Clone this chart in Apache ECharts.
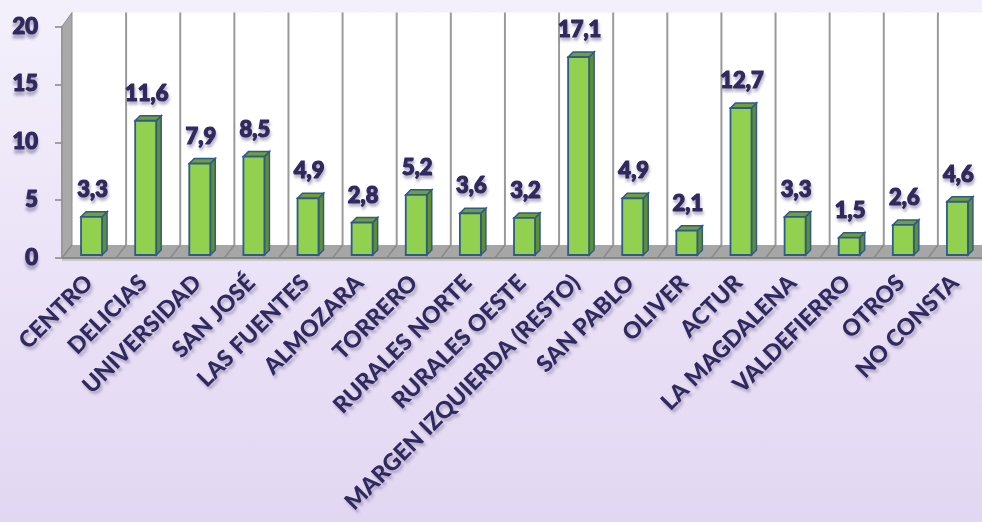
<!DOCTYPE html>
<html>
<head>
<meta charset="utf-8">
<script src="https://cdn.jsdelivr.net/npm/echarts@6/dist/echarts.min.js"></script>
<style>
html,body{margin:0;padding:0;}
#c{width:982px;height:522px;background:linear-gradient(180deg,#f4f0fb 0%,#ebe3f7 50%,#e2d7f2 100%);}
</style>
</head>
<body>
<div id="c"></div>
<script>
var categories = ['CENTRO','DELICIAS','UNIVERSIDAD','SAN JOSÉ','LAS FUENTES','ALMOZARA','TORRERO','RURALES NORTE','RURALES OESTE','MARGEN IZQUIERDA (RESTO)','SAN PABLO','OLIVER','ACTUR','LA MAGDALENA','VALDEFIERRO','OTROS','NO CONSTA'];
var values = [3.3, 11.6, 7.9, 8.5, 4.9, 2.8, 5.2, 3.6, 3.2, 17.1, 4.9, 2.1, 12.7, 3.3, 1.5, 2.6, 4.6];
var yTicks = [0, 5, 10, 15, 20];

var TEXT = '#30295e';
var FONT = 'Lato, "Open Sans", sans-serif';
var WEIGHT = 900;

var chart = echarts.init(document.getElementById('c'), null, {renderer: 'canvas'});

function wallsRender(params, api) {
  var bw = api.size([1, 0])[0];
  var p0 = api.coord([0, 0]);
  var pTop = api.coord([0, yTicks[yTicks.length - 1]]);
  var left = p0[0] - bw / 2;
  var right = left + categories.length * bw;
  var bottom = p0[1];
  var top = pTop[1];
  var dx = 10, dy = 13, dyTop = 14;
  var children = [];
  children.push({type: 'rect', shape: {x: left + dx, y: top - dyTop, width: right - left + 40, height: (bottom - dy) - (top - dyTop)}, style: {fill: '#ffffff'}});
  children.push({type: 'polygon', shape: {points: [[left, top], [left + dx, top - dyTop], [left + dx, bottom - dy], [left, bottom]]}, style: {fill: '#a9a9a9', stroke: '#8c8c8c', lineWidth: 1}});
  for (var k = 1; k <= categories.length; k++) {
    var x = left + dx + k * bw;
    children.push({type: 'line', shape: {x1: x, y1: top - dyTop, x2: x, y2: bottom - dy}, style: {stroke: '#9a9a9a', lineWidth: 2}});
  }
  children.push({type: 'polygon', shape: {points: [[left, bottom], [right + 40, bottom], [right + 40 + dx, bottom - dy], [left + dx, bottom - dy]]}, style: {fill: '#a6a6a6'}});
  for (var j = 0; j <= categories.length; j++) {
    var fx = left + j * bw;
    children.push({type: 'line', shape: {x1: fx, y1: bottom, x2: fx + dx, y2: bottom - dy}, style: {stroke: '#8a8a8a', lineWidth: 1.5}});
  }
  children.push({type: 'line', shape: {x1: left, y1: bottom, x2: right + 40, y2: bottom}, style: {stroke: '#8a8a8a', lineWidth: 2}});
  children.push({type: 'rect', shape: {x: left, y: bottom + 1, width: right - left + 40, height: 2}, style: {fill: '#c8c8c8'}});
  return {type: 'group', children: children};
}

function barRender(params, api) {
  var idx = api.value(0);
  var v = api.value(1);
  var base = api.coord([idx, 0]);
  var topP = api.coord([idx, v]);
  var ox = 2.5, oy = -3, w = 21, d = 5;
  var x0 = base[0] + ox - w / 2, x1 = x0 + w;
  var yb = base[1] + oy, yt = topP[1] + oy;
  var label = String(v).replace('.', ',');
  return {
    type: 'group',
    children: [
      {type: 'polygon', shape: {points: [[x1, yt], [x1 + d, yt - d], [x1 + d, yb - d], [x1, yb]]}, style: {fill: '#5f8f2e', stroke: '#2f5a8a', lineWidth: 1.5}},
      {type: 'polygon', shape: {points: [[x0, yt], [x1, yt], [x1 + d, yt - d], [x0 + d, yt - d]]}, style: {fill: '#6f9e3a', stroke: '#2f5a8a', lineWidth: 1.5}},
      {type: 'rect', shape: {x: x0, y: yt, width: w, height: yb - yt}, style: {fill: '#92d050', stroke: '#2f5a8a', lineWidth: 1.8}},
      {type: 'text', style: {
        text: label, x: x0 + w / 2 + 1, y: yt - d - 11,
        align: 'center', verticalAlign: 'bottom', textAlign: 'center', textVerticalAlign: 'bottom',
        font: WEIGHT + ' 22px ' + FONT, fill: TEXT,
        stroke: TEXT, lineWidth: 1.2,
        textShadowColor: 'rgba(70,60,110,0.35)', textShadowBlur: 3, textShadowOffsetX: 1, textShadowOffsetY: 3
      }}
    ]
  };
}

var barData = values.map(function (v, i) { return [i, v]; });

chart.setOption({
  animation: false,
  grid: {left: 62, top: 26.5, bottom: 264, width: 925, containLabel: false},
  xAxis: {
    type: 'category',
    data: categories,
    axisLine: {show: false},
    axisTick: {show: false},
    axisLabel: {
      interval: 0, rotate: 45, margin: 21,
      color: TEXT, fontFamily: FONT, fontWeight: WEIGHT, fontSize: 23,
      textShadowColor: 'rgba(70,60,110,0.35)', textShadowBlur: 3, textShadowOffsetX: 2, textShadowOffsetY: 3
    },
    splitLine: {show: false}
  },
  yAxis: {
    type: 'value',
    min: yTicks[0], max: yTicks[yTicks.length - 1], interval: 5,
    axisLine: {show: true, lineStyle: {color: '#868686', width: 1.5}},
    axisTick: {show: true, length: 7, lineStyle: {color: '#868686', width: 1.5}},
    splitLine: {show: false},
    axisLabel: {
      margin: 24, color: TEXT, fontFamily: FONT, fontWeight: WEIGHT, fontSize: 22,
      textBorderColor: TEXT, textBorderWidth: 1.2,
      textShadowColor: 'rgba(70,60,110,0.35)', textShadowBlur: 3, textShadowOffsetX: 0, textShadowOffsetY: 4
    }
  },
  series: [
    {type: 'custom', name: 'walls', data: [[0, 0]], renderItem: wallsRender, z: 1, silent: true, clip: false},
    {type: 'custom', name: 'bars', data: barData, encode: {x: 0, y: 1}, renderItem: barRender, z: 5, clip: false}
  ]
});
</script>
</body>
</html>
